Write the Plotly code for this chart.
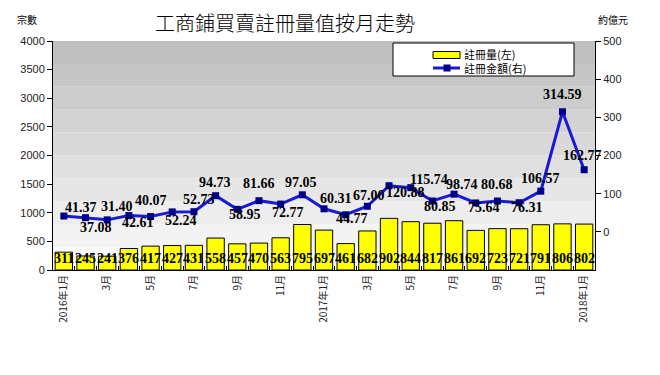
import plotly.graph_objects as go

months = ["2016年1月", "2016年2月", "2016年3月", "2016年4月", "2016年5月", "2016年6月",
          "2016年7月", "2016年8月", "2016年9月", "2016年10月", "2016年11月", "2016年12月",
          "2017年1月", "2017年2月", "2017年3月", "2017年4月", "2017年5月", "2017年6月",
          "2017年7月", "2017年8月", "2017年9月", "2017年10月", "2017年11月", "2017年12月",
          "2018年1月"]
tick_labels = ["2016年1月", "", "3月", "", "5月", "", "7月", "", "9月", "", "11月", "",
               "2017年1月", "", "3月", "", "5月", "", "7月", "", "9月", "", "11月", "",
               "2018年1月"]
counts = [311, 245, 241, 376, 417, 427, 431, 558, 457, 470, 563, 795,
          697, 461, 682, 902, 844, 817, 861, 692, 723, 721, 791, 806, 802]
amounts = [41.37, 37.08, 31.40, 42.61, 40.07, 52.24, 52.73, 94.73, 58.95, 81.66, 72.77, 97.05,
           60.31, 44.77, 67.00, 120.88, 115.74, 80.85, 98.74, 75.64, 80.68, 76.31, 106.57,
           314.59, 162.77]
amount_labels = ["%.2f" % v for v in amounts]
bar_name = "註冊量(左)"
line_name = "註冊金額(右)"

# label offsets in pixels (style): (dx, dy) with dy positive = up
label_offsets = [(17, 9), (10, -10), (10, 13), (9, -7), (0, 16), (9, -9), (5, 12),
                 (-1, 13), (8, -5), (0, 17), (7, -8), (-1, 12), (12, 10), (6, -4),
                 (2, 11), (16, -7), (18, 8), (8, -6), (8, 10), (8, -5), (0, 17),
                 (8, -5), (0, 13), (0, 17), (-2, 14)]

serif_bold = dict(family="Liberation Serif", size=14, color="black", weight="bold")

# the page body has an 8px default margin: the figure is laid out 8px smaller
PW, PH = 652, 367
L, T, PLOT_W, PLOT_H = 45, 33, 542, 229


def xp(px):  # reference pixel -> paper x
    return (px - 53) / PLOT_W


def yp(py):  # reference pixel -> paper y
    return (270 - py) / PLOT_H


fig = go.Figure()
fig.add_trace(go.Bar(
    x=months, y=counts, name=bar_name, showlegend=False,
    marker=dict(color="#ffff00", line=dict(color="black", width=1)),
))
fig.add_trace(go.Scatter(
    x=months, y=amounts, name=line_name, yaxis="y2", showlegend=False,
    mode="lines+markers",
    line=dict(color="#1a1ad0", width=3),
    marker=dict(symbol="square", size=7, color="#00008b"),
    cliponaxis=False,
))

shapes = []
n_bands = 10
for i in range(n_bands):
    g = int(192 + (250 - 192) * i / (n_bands - 1))
    shapes.append(dict(type="rect", xref="paper", yref="paper",
                       x0=0, x1=1, y0=1 - (i + 1) / n_bands, y1=1 - i / n_bands,
                       fillcolor="rgb(%d,%d,%d)" % (g, g, g), line=dict(width=0),
                       layer="below"))
# legend box and symbols
shapes.append(dict(type="rect", xref="paper", yref="paper",
                   x0=xp(393), x1=xp(574), y0=yp(76), y1=yp(43),
                   fillcolor="white", line=dict(color="black", width=1), layer="above"))
shapes.append(dict(type="rect", xref="paper", yref="paper",
                   x0=xp(433), x1=xp(460), y0=yp(58.5), y1=yp(51.5),
                   fillcolor="#ffff00", line=dict(color="black", width=1), layer="above"))
shapes.append(dict(type="line", xref="paper", yref="paper",
                   x0=xp(433), x1=xp(460), y0=yp(68), y1=yp(68),
                   line=dict(color="#1a1ad0", width=3), layer="above"))
shapes.append(dict(type="rect", xref="paper", yref="paper",
                   x0=xp(443.5), x1=xp(450.5), y0=yp(71.5), y1=yp(64.5),
                   fillcolor="#00008b", line=dict(width=0), layer="above"))

axis_font = dict(family="Liberation Sans", size=11, color="#222")
cjk = "Noto Sans CJK TC"

annotations = [
    dict(text="工商鋪買賣註冊量值按月走勢", xref="paper", yref="paper",
         x=xp(285), y=yp(22.5), xanchor="center", yanchor="middle", showarrow=False,
         font=dict(family=cjk, size=20, color="black", weight=300)),
    dict(text="宗數", xref="paper", yref="paper", x=xp(27), y=yp(19),
         xanchor="center", yanchor="middle", showarrow=False,
         font=dict(family=cjk, size=10, color="black")),
    dict(text="約億元", xref="paper", yref="paper", x=xp(613), y=yp(19),
         xanchor="center", yanchor="middle", showarrow=False,
         font=dict(family=cjk, size=10, color="black")),
    dict(text=bar_name + "<br>" + line_name, xref="paper", yref="paper",
         x=xp(462), y=yp(61.3), xanchor="left", yanchor="middle", align="left",
         showarrow=False, font=dict(family=cjk, size=11, color="black")),
]
for m, c in zip(months, counts):
    annotations.append(dict(text=str(c), x=m, y=0, xref="x", yref="y",
                            yanchor="middle", yshift=12, showarrow=False,
                            font=serif_bold))
for m, v, s, (dx, dy) in zip(months, amounts, amount_labels, label_offsets):
    annotations.append(dict(text=s, x=m, y=v, xref="x", yref="y2",
                            xanchor="center", yanchor="middle", xshift=dx, yshift=dy,
                            showarrow=False, font=serif_bold))

fig.update_layout(
    width=PW, height=PH,
    margin=dict(l=L, r=PW - L - PLOT_W, t=T, b=PH - T - PLOT_H),
    paper_bgcolor="white", plot_bgcolor="white",
    bargap=0.2,
    shapes=shapes,
    annotations=annotations,
    showlegend=False,
    xaxis=dict(type="category", tickvals=months, ticktext=tick_labels,
               range=[-0.5, len(months) - 0.5],
               tickangle=-90, tickson="boundaries", ticks="inside", ticklen=4,
               tickcolor="black", showline=True, linecolor="black", linewidth=1,
               showgrid=False, tickfont=dict(family=cjk, size=10, color="#222")),
    yaxis=dict(range=[0, 4000], dtick=500, ticks="outside", ticklen=5,
               tickcolor="black", showline=True, linecolor="black", linewidth=1,
               showgrid=False, zeroline=False, tickfont=axis_font),
    yaxis2=dict(overlaying="y", side="right", range=[-100, 500],
                tickvals=[0, 100, 200, 300, 400, 500], ticks="outside", ticklen=5,
                tickcolor="black", showline=True, linecolor="black", linewidth=1,
                showgrid=False, zeroline=False, tickfont=axis_font),
)

fig.write_html("out.html")
